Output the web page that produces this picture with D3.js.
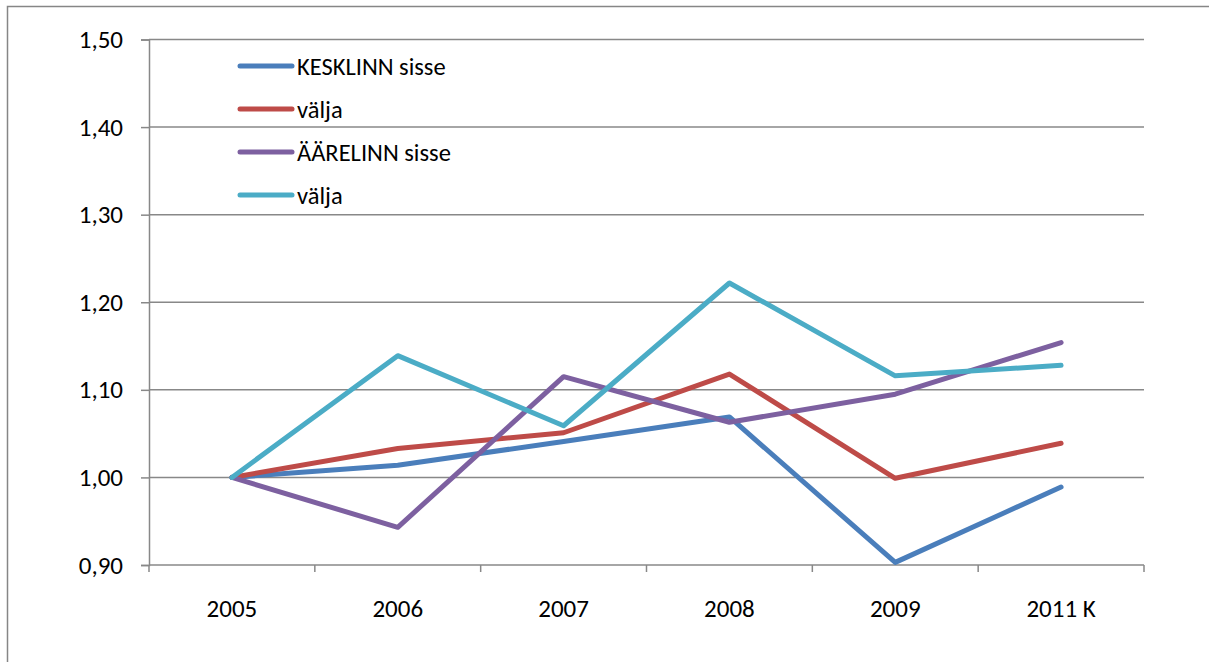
<!DOCTYPE html>
<html><head><meta charset="utf-8">
<script src="https://cdn.jsdelivr.net/npm/d3@7"></script>
<style>
html,body{margin:0;padding:0;background:#fff;}
svg{display:block;}
text{font-family:Carlito, Calibri, Lato, sans-serif;fill:#000;}
</style></head><body>
<svg id="chart" width="1209" height="662"></svg>
<script>
const categories = ["2005","2006","2007","2008","2009","2011 K"];
const seriesNames = ["KESKLINN sisse","välja","ÄÄRELINN sisse","välja"];
const kesklinnSisse = [1.000, 1.014, 1.041, 1.069, 0.903, 0.989];
const kesklinnValja = [1.000, 1.033, 1.051, 1.118, 0.999, 1.039];
const aarelinnSisse = [1.000, 0.943, 1.115, 1.063, 1.095, 1.154];
const aarelinnValja = [1.000, 1.139, 1.059, 1.222, 1.116, 1.128];
const yTicks = [0.90, 1.00, 1.10, 1.20, 1.30, 1.40, 1.50];
const colors = ["#4A7EBB","#BE4B48","#7D60A0","#4BACC6"];

const series = [kesklinnSisse, kesklinnValja, aarelinnSisse, aarelinnValja];

const svg = d3.select("#chart");
const pLeft = 149, pRight = 1144, pTop = 39.5, pBottom = 565;

// outer border
svg.append("path").attr("d","M7.5,670 V6.5 H1215")
  .attr("fill","none").attr("stroke","#868686").attr("stroke-width",1.5);

const x = d3.scaleBand().domain(categories).range([pLeft, pRight]);
const y = d3.scaleLinear().domain([0.9, 1.5]).range([pBottom, pTop]);

// gridlines
svg.append("g").selectAll("line").data(yTicks.slice(1)).join("line")
  .attr("x1", pLeft).attr("x2", pRight)
  .attr("y1", d => y(d)).attr("y2", d => y(d))
  .attr("stroke","#888").attr("stroke-width",1.5);

// y axis
const yAxis = d3.axisLeft(y).tickValues(yTicks).tickSize(8).tickPadding(18)
  .tickFormat(d => d3.format(".2f")(d).replace(".", ","));
const gy = svg.append("g").attr("transform",`translate(${pLeft},0)`).call(yAxis);
gy.select(".domain").attr("stroke","#888").attr("stroke-width",1.5);
gy.selectAll(".tick line").attr("stroke","#888").attr("stroke-width",1.5);
gy.selectAll("text").style("font-size","25px").attr("fill","#000");

// x axis
const gx = svg.append("g").attr("transform",`translate(0,${pBottom})`);
gx.append("line").attr("x1",pLeft).attr("x2",pRight).attr("stroke","#888").attr("stroke-width",1.5);
const bounds = categories.map(c => x(c)).concat([pRight]);
gx.selectAll("line.t").data(bounds).join("line").attr("class","t")
  .attr("x1", d => d).attr("x2", d => d).attr("y1",0).attr("y2",7)
  .attr("stroke","#888").attr("stroke-width",1.5);
gx.selectAll("text").data(categories).join("text")
  .attr("x", d => x(d) + x.bandwidth()/2).attr("y", 52)
  .attr("text-anchor","middle").style("font-size","25px").text(d => d);

// lines
const line = d3.line().x((d,i) => x(categories[i]) + x.bandwidth()/2).y(d => y(d));
svg.append("g").selectAll("path").data(series).join("path")
  .attr("d", line).attr("fill","none")
  .attr("stroke",(d,i)=>colors[i]).attr("stroke-width",5)
  .attr("stroke-linecap","round").attr("stroke-linejoin","round");

// legend
const lg = svg.append("g");
const legY = [66, 109, 152, 195];
seriesNames.forEach((n,i) => {
  lg.append("line").attr("x1",240).attr("x2",292).attr("y1",legY[i]).attr("y2",legY[i])
    .attr("stroke",colors[i]).attr("stroke-width",5).attr("stroke-linecap","round");
  lg.append("text").attr("x",297).attr("y",legY[i]).attr("dy","0.36em")
    .style("font-size","24.5px").text(n);
});
</script>
</body></html>
